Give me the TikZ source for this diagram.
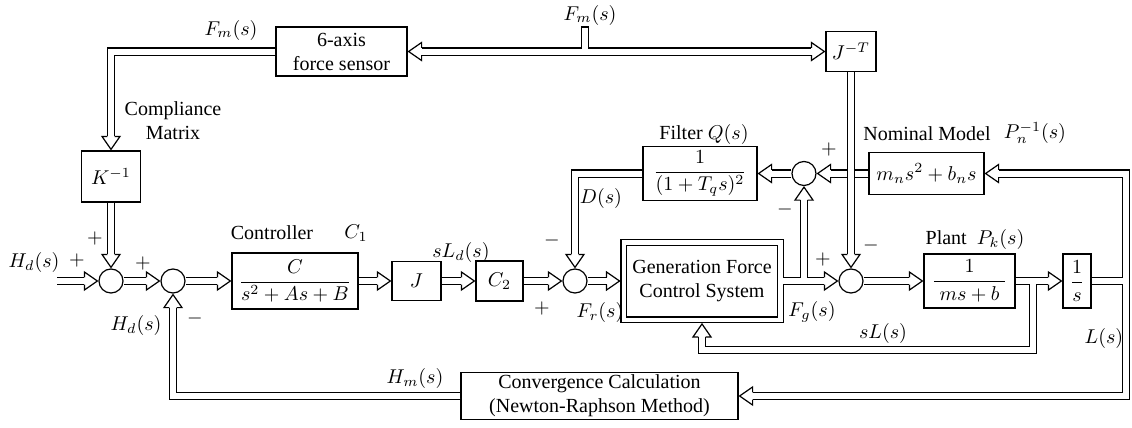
\documentclass[tikz,border=0pt]{standalone}
\usepackage{amsmath}
\usepackage[no-math]{fontspec}
\setmainfont{Liberation Serif}
\usetikzlibrary{arrows.meta,calc}
\pgfdeclarearrow{
  name=DOpen,
  setup code={
    \pgfarrowssettipend{7pt}
    \pgfarrowssetlineend{0pt}
    \pgfarrowssetbackend{-0.3pt}
    \pgfarrowssetvisualbackend{0pt}
    \pgfarrowsupperhullpoint{0pt}{4.5pt}
    \pgfarrowsupperhullpoint{7pt}{0pt}
  },
  drawing code={
    \pgfsetlinewidth{0.6pt}
    \pgfsetdash{}{0pt}
    \pgfsetmiterjoin
    \pgfsetbuttcap
    \pgfsetstrokecolor{black}
    \pgfpathmoveto{\pgfpoint{0pt}{1.8pt}}
    \pgfpathlineto{\pgfpoint{0pt}{4.5pt}}
    \pgfpathlineto{\pgfpoint{6.5pt}{0pt}}
    \pgfpathlineto{\pgfpoint{0pt}{-4.5pt}}
    \pgfpathlineto{\pgfpoint{0pt}{-1.8pt}}
    \pgfusepathqstroke
  }
}
\tikzset{
  box/.style={draw, line width=0.6pt, inner sep=1pt, align=center},
  sumc/.style={circle, draw, line width=0.6pt, minimum size=12pt, inner sep=0pt},
  dbln/.style={double, double distance=3pt, line width=0.6pt},
  dbl/.style={dbln, -{DOpen}},
  lbl/.style={inner sep=0pt, align=center},
}
\begin{document}
\begin{tikzpicture}[x=0.5pt,y=-0.5pt]
\useasboundingbox (0,0) rectangle (1132,428);
% blocks
\node[box, minimum width=65.5pt, minimum height=24.5pt] (sens) at (341.5,51.5) {6-axis\\force sensor};
\node[box, minimum width=25pt, minimum height=20pt] (JT) at (851,51.5) {$J^{-T}$};
\node[box, minimum width=29.5pt, minimum height=25.5pt] (K) at (111,176.5) {$K^{-1}$};
\node[sumc] (S1) at (111,281) {};
\node[sumc] (S2) at (173,281) {};
\node[box, minimum width=63pt, minimum height=28pt] (ctrl) at (295,281) {$\dfrac{C}{s^2+As+B}$};
\node[box, minimum width=24.5pt, minimum height=19.5pt] (J) at (416.5,281) {$J$};
\node[box, minimum width=23.5pt, minimum height=20pt] (C2) at (499.5,281) {$C_2$};
\node[sumc] (S3) at (575,281) {};
\node[box, double, double distance=2.25pt, minimum width=78.25pt, minimum height=38.75pt, outer sep=1.6pt] (GFCS) at (702,281) {Generation Force\\Control System};
\node[sumc] (S4) at (851,281) {};
\node[box, minimum width=45.5pt, minimum height=27pt] (plant) at (969.5,281) {$\dfrac{1}{\;ms+b\;}$};
\node[box, minimum width=14pt, minimum height=27pt, inner sep=0.5pt] (Int) at (1077,281) {$\dfrac{1}{s}$};
\node[box, minimum width=57.5pt, minimum height=21pt] (Nom) at (926.5,173.5) {$m_ns^2+b_ns$};
\node[sumc] (S5) at (804,173.5) {};
\node[box, minimum width=57pt, minimum height=27pt] (filt) at (700,173.5) {$\dfrac{1}{(1+T_qs)^2}$};
\node[box, minimum width=138.5pt, minimum height=23.5pt, inner sep=0.5pt] (conv) at (599.5,396) {Convergence Calculation\\(Newton-Raphson Method)};
% labels
\node[lbl] (lFm1) at (231,30) {$F_m(s)$};
\node[lbl] (lFm2) at (590,15) {$F_m(s)$};
\node[lbl] (lcm) at (173,121) {Compliance\\Matrix};
\node[lbl] (lHd1) at (34,262) {$H_d(s)$};
\node[lbl] at (77,260) {$+$};
\node[lbl] at (95,238) {$+$};
\node[lbl] at (143,263) {$+$};
\node[lbl] (lHd2) at (136,325) {$H_d(s)$};
\node[lbl] at (195,318) {$-$};
\node[lbl] (lctrl) at (272,233) {Controller};
\node[lbl] (lC1) at (356,233) {$C_1$};
\node[lbl] (lsLd) at (461,252) {$sL_d(s)$};
\node[lbl] at (552,240) {$-$};
\node[lbl] at (542,308) {$+$};
\node[lbl] (lFr) at (600,312) {$F_r(s)$};
\node[lbl] (lD) at (601,198) {$D(s)$};
\node[lbl] (lfilt) at (704,135) {Filter $Q(s)$};
\node[lbl] (lnom) at (927,134) {Nominal Model};
\node[lbl] (lPn) at (1035,133) {$P_n^{-1}(s)$};
\node[lbl] at (829,149) {$+$};
\node[lbl] at (785,209) {$-$};
\node[lbl] at (823,259) {$+$};
\node[lbl] at (871,245) {$-$};
\node[lbl] (lFg) at (812,312) {$F_g(s)$};
\node[lbl] (lplant) at (975,239) {Plant~~$P_k(s)$};
\node[lbl] (lsL) at (883,333) {$sL(s)$};
\node[lbl] (lL) at (1104,338) {$L(s)$};
\node[lbl] (lHm) at (415,378) {$H_m(s)$};
% coordinates
\coordinate (in) at (57,281);
\coordinate (b1) at (S5 |- S4);
\coordinate (b2) at (1033,281);
\coordinate (cl) at (1033,350);
\coordinate (b3) at (1126,281);
\coordinate (stb) at (585,51.5);
\coordinate (stt) at (585,27);
% connectors
\draw[dbl, {DOpen}-{DOpen}] (sens.east) -- (JT.west);
\draw[dbln, shorten <=1.5pt] (stb) -- (stt);
\draw[line width=0.6pt] ([xshift=-2.1pt]stt) -- ([xshift=2.1pt]stt);
\draw[dbl] (sens.west) -| (K.north);
\draw[dbl] (in) -- (S1);
\draw[dbl] (K) -- (S1);
\draw[dbl] (S1) -- (S2);
\draw[dbl] (S2) -- (ctrl);
\draw[dbl] (ctrl) -- (J);
\draw[dbl] (J) -- (C2);
\draw[dbl] (C2) -- (S3);
\draw[dbl] (S3) -- (GFCS);
\draw[dbl] (GFCS) -- (S4);
\draw[dbl, shorten <=1.5pt] (b1) -- (S5);
\draw[dbl] (Nom) -- (S5);
\draw[dbl] (S5) -- (filt);
\draw[dbl] (filt) -| (S3);
\draw[dbl] (JT) -- (S4);
\draw[dbl] (S4) -- (plant);
\draw[dbl] (plant) -- (Int);
\draw[dbl, shorten <=1.5pt] (b2) -- (cl) -| (GFCS.south);
\draw[dbl] (Int) -- (b3) |- (Nom);
\draw[dbl, shorten <=1.5pt] (b3) |- (conv);
\draw[dbl] (conv) -| (S2);
\end{tikzpicture}
\end{document}
